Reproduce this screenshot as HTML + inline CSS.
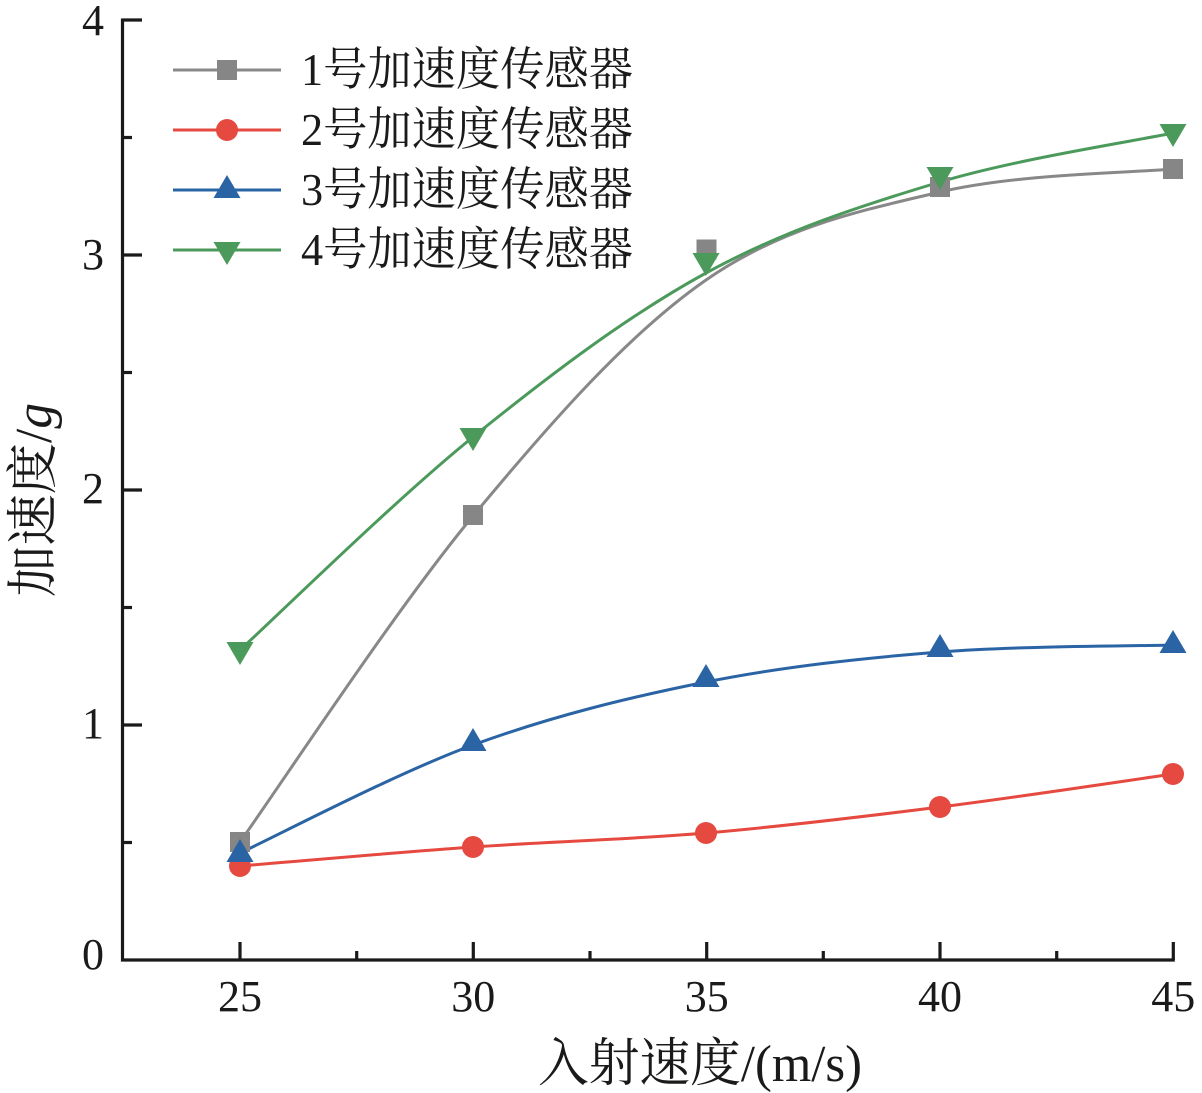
<!DOCTYPE html>
<html>
<head>
<meta charset="utf-8">
<style>
  html, body { margin: 0; padding: 0; background: #ffffff; }
  svg { display: block; }
  .tick { font-family: "Liberation Serif", "Noto Serif CJK SC", serif; font-size: 44px; fill: #1a1a1a; }
  .cjk { font-family: "Liberation Serif", "Noto Serif CJK SC", serif; fill: #1a1a1a; }
</style>
</head>
<body>
<svg width="1202" height="1093" viewBox="0 0 1202 1093" xmlns="http://www.w3.org/2000/svg">
  <rect width="1202" height="1093" fill="#ffffff"/>

  <!-- Axes -->
  <g stroke="#1a1a1a" stroke-width="3.2" fill="none" stroke-linecap="butt">
    <line x1="122.5" y1="18.5" x2="122.5" y2="961.5"/>
    <line x1="121" y1="960" x2="1174.8" y2="960"/>
    <!-- y major ticks -->
    <line x1="122" y1="20" x2="142" y2="20"/>
    <line x1="122" y1="255" x2="142" y2="255"/>
    <line x1="122" y1="490" x2="142" y2="490"/>
    <line x1="122" y1="725" x2="142" y2="725"/>
    <!-- y minor ticks -->
    <line x1="122" y1="137.5" x2="132" y2="137.5"/>
    <line x1="122" y1="372.5" x2="132" y2="372.5"/>
    <line x1="122" y1="607.5" x2="132" y2="607.5"/>
    <line x1="122" y1="842.5" x2="132" y2="842.5"/>
    <!-- x major ticks -->
    <line x1="240" y1="960" x2="240" y2="942"/>
    <line x1="473.3" y1="960" x2="473.3" y2="942"/>
    <line x1="706.7" y1="960" x2="706.7" y2="942"/>
    <line x1="940" y1="960" x2="940" y2="942"/>
    <line x1="1173.3" y1="960" x2="1173.3" y2="942"/>
    <!-- x minor ticks -->
    <line x1="356.7" y1="960" x2="356.7" y2="951"/>
    <line x1="590" y1="960" x2="590" y2="951"/>
    <line x1="823.3" y1="960" x2="823.3" y2="951"/>
    <line x1="1056.7" y1="960" x2="1056.7" y2="951"/>
  </g>

  <!-- Y tick labels -->
  <g class="tick" text-anchor="end">
    <text x="104" y="35">4</text>
    <text x="104" y="269">3</text>
    <text x="104" y="503">2</text>
    <text x="104" y="738">1</text>
    <text x="104" y="969">0</text>
  </g>
  <!-- X tick labels -->
  <g class="tick" text-anchor="middle">
    <text x="240" y="1011">25</text>
    <text x="473.3" y="1011">30</text>
    <text x="706.7" y="1011">35</text>
    <text x="940" y="1011">40</text>
    <text x="1173.3" y="1011">45</text>
  </g>

  <!-- Axis titles -->
  <text class="cjk" x="538" y="1081" font-size="52" textLength="324" lengthAdjust="spacingAndGlyphs">入射速度/(m/s)</text>
  <text class="cjk" font-size="52" transform="translate(51,500) rotate(-90)" text-anchor="middle" textLength="194" lengthAdjust="spacingAndGlyphs">加速度/<tspan font-style="italic">g</tspan></text>

  <!-- Series 1: gray -->
  <path d="M240,842 C278.8,787.7 395.3,609.7 473,516 C550.7,422.3 628.2,334 706,280 C783.8,226 862.2,210.5 940,192 C1017.8,173.5 1134.2,172.8 1173,169"
        fill="none" stroke="#888888" stroke-width="3"/>
  <!-- Series 2: red -->
  <path d="M240,866 C278.8,862.8 395.3,852.5 473,847 C550.7,841.5 628.2,839.7 706,833 C783.8,826.3 862.2,816.8 940,807 C1017.8,797.2 1134.2,779.5 1173,774"
        fill="none" stroke="#e5493f" stroke-width="3"/>
  <!-- Series 3: blue -->
  <path d="M240,853 C278.8,835 395.3,773.5 473,745 C550.7,716.5 628.2,697.5 706,682 C783.8,666.5 862.2,658.2 940,652 C1017.8,645.8 1134.2,646.2 1173,645"
        fill="none" stroke="#2b64a5" stroke-width="3"/>
  <!-- Series 4: green -->
  <path d="M240,650 C278.8,614.5 395.3,499.8 473,437 C550.7,374.2 628.2,315.5 706,273 C783.8,230.5 862.2,205.3 940,182 C1017.8,158.7 1134.2,141.2 1173,133"
        fill="none" stroke="#4c9a5b" stroke-width="3"/>

  <!-- Gray squares -->
  <g fill="#868686">
    <rect x="230" y="832" width="20" height="20"/>
    <rect x="463" y="505" width="20" height="20"/>
    <rect x="696.5" y="239.5" width="20" height="20"/>
    <rect x="930" y="177" width="20" height="20"/>
    <rect x="1163" y="159" width="20" height="20"/>
  </g>
  <!-- Red circles -->
  <g fill="#e5493f">
    <circle cx="240" cy="866" r="11"/>
    <circle cx="473" cy="847" r="11"/>
    <circle cx="706" cy="833" r="11"/>
    <circle cx="940" cy="807" r="11"/>
    <circle cx="1173" cy="774" r="11"/>
  </g>
  <!-- Blue up triangles -->
  <g fill="#2b64a5">
    <polygon points="226.5,862 253.5,862 240,839"/>
    <polygon points="459.5,751 486.5,751 473,728"/>
    <polygon points="692.5,687 719.5,687 706,664"/>
    <polygon points="926.5,657 953.5,657 940,634"/>
    <polygon points="1159.5,653 1186.5,653 1173,630"/>
  </g>
  <!-- Green down triangles -->
  <g fill="#4c9a5b">
    <polygon points="226.5,642 253.5,642 240,665"/>
    <polygon points="459.5,428 486.5,428 473,451"/>
    <polygon points="692.5,253 719.5,253 706,276"/>
    <polygon points="926.5,167 953.5,167 940,190"/>
    <polygon points="1159.5,124 1186.5,124 1173,147"/>
  </g>

  <!-- Legend -->
  <g stroke-width="3">
    <line x1="173" y1="70" x2="281" y2="70" stroke="#888888"/>
    <line x1="173" y1="130" x2="281" y2="130" stroke="#e5493f"/>
    <line x1="173" y1="190" x2="281" y2="190" stroke="#2b64a5"/>
    <line x1="173" y1="250" x2="281" y2="250" stroke="#4c9a5b"/>
  </g>
  <rect x="217" y="60" width="20" height="20" fill="#868686"/>
  <circle cx="227" cy="130" r="11" fill="#e5493f"/>
  <polygon points="213.5,198 240.5,198 227,175" fill="#2b64a5"/>
  <polygon points="213.5,242 240.5,242 227,265" fill="#4c9a5b"/>

  <g class="cjk" font-size="46">
    <text x="301" y="85" textLength="332" lengthAdjust="spacingAndGlyphs">1号加速度传感器</text>
    <text x="301" y="145" textLength="332" lengthAdjust="spacingAndGlyphs">2号加速度传感器</text>
    <text x="301" y="205" textLength="332" lengthAdjust="spacingAndGlyphs">3号加速度传感器</text>
    <text x="301" y="265" textLength="332" lengthAdjust="spacingAndGlyphs">4号加速度传感器</text>
  </g>
</svg>
</body>
</html>
